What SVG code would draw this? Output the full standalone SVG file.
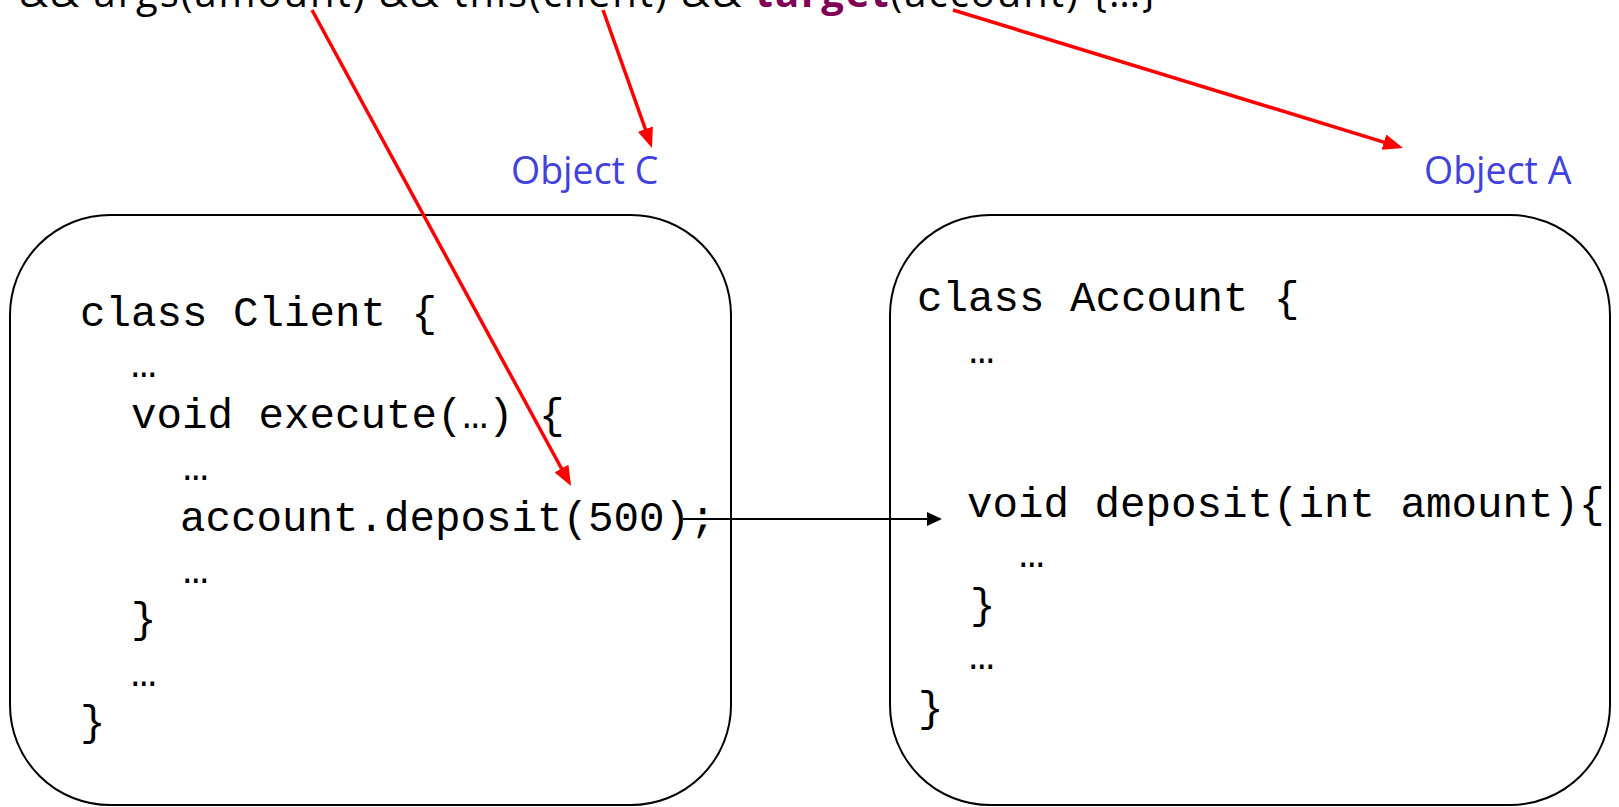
<svg xmlns="http://www.w3.org/2000/svg" width="1619" height="807" viewBox="0 0 1619 807">
  <style>
    .code { font-family: "Liberation Mono", "Courier New", monospace; font-size: 42.5px; fill: #000; }
    .label { font-family: "Open Sans", "Noto Sans", sans-serif; font-size: 37.5px; fill: #4141DC; }
    .top { font-family: "Open Sans", "Noto Sans", sans-serif; font-size: 40px; fill: #000; }
    .kw { fill: #7F0055; font-weight: bold; }
    .box { fill: #fff; stroke: #000; stroke-width: 2; }
    .ref { stroke: #FF0000; stroke-width: 3.5; fill: none; marker-end: url(#redHead); }
    .call { stroke: #000; stroke-width: 2; fill: none; marker-end: url(#blackHead); }
  </style>
  <defs>
    <marker id="redHead" viewBox="0 0 20 16" markerWidth="20" markerHeight="16" refX="16" refY="8" orient="auto" markerUnits="userSpaceOnUse">
      <path d="M0,0 L20,8 L0,16 z" fill="#FF0000"/>
    </marker>
    <marker id="blackHead" viewBox="0 0 15 14" markerWidth="15" markerHeight="14" refX="12" refY="7" orient="auto" markerUnits="userSpaceOnUse">
      <path d="M0,0 L15,7 L0,14 z" fill="#000"/>
    </marker>
  </defs>

  <rect width="1619" height="807" fill="#fff"/>

  <!-- pointcut expression along the top edge -->
  <text class="top" x="19" y="7" textLength="1138" lengthAdjust="spacing">&amp;&amp; args(amount) &amp;&amp; this(client) &amp;&amp; <tspan class="kw">target</tspan>(account) {…}</text>

  <!-- object labels -->
  <text class="label" x="511" y="184">Object C</text>
  <text class="label" x="1424" y="184">Object A</text>

  <!-- Client object -->
  <g id="client">
    <rect class="box" x="10" y="215" width="721" height="590" rx="100" ry="100"/>
    <text class="code" x="80" y="326" xml:space="preserve">class Client {</text>
    <text class="code" x="131" y="377">…</text>
    <text class="code" x="131" y="428" xml:space="preserve">void execute(…) {</text>
    <text class="code" x="183" y="480">…</text>
    <text class="code" x="180" y="531">account.deposit(500);</text>
    <text class="code" x="183" y="583">…</text>
    <text class="code" x="131" y="632">}</text>
    <text class="code" x="131" y="686">…</text>
    <text class="code" x="80" y="735">}</text>
  </g>

  <!-- Account object -->
  <g id="account">
    <rect class="box" x="890" y="215" width="720" height="590" rx="100" ry="100"/>
    <text class="code" x="917" y="311" xml:space="preserve">class Account {</text>
    <text class="code" x="969" y="363">…</text>
    <text class="code" x="967" y="517" xml:space="preserve">void deposit(int amount){</text>
    <text class="code" x="1019" y="567">…</text>
    <text class="code" x="970" y="618">}</text>
    <text class="code" x="969" y="669">…</text>
    <text class="code" x="918" y="721">}</text>
  </g>

  <!-- connectors -->
  <g id="connectors">
    <line class="call" x1="683" y1="519" x2="939" y2="519"/>
    <line class="ref" x1="312" y1="10" x2="569.1" y2="482.5"/>
    <line class="ref" x1="603" y1="10" x2="650.7" y2="144.2"/>
    <line class="ref" x1="953" y1="10" x2="1399.2" y2="146.8"/>
  </g>
</svg>
